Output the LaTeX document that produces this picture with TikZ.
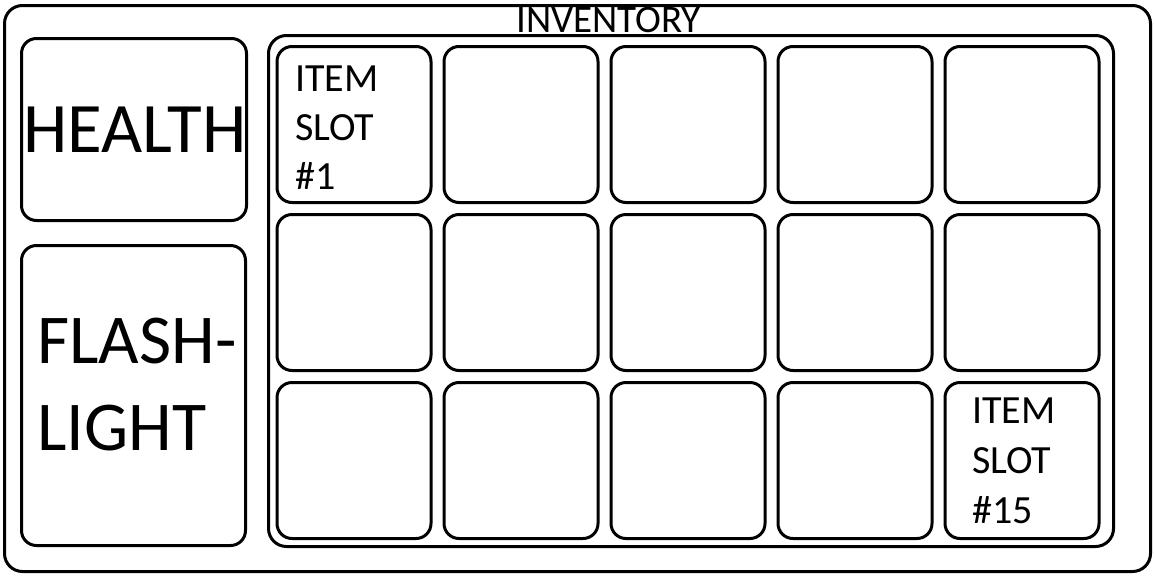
\documentclass[tikz,border=0pt]{standalone}
\usepackage{fontspec}
\setmainfont{Carlito}
\begin{document}
\begin{tikzpicture}[x=1pt,y=-1pt,
  box/.style={draw=black,line width=3pt,rounded corners=15pt,inner sep=0pt},
  slot/.style={box,minimum width=154pt,minimum height=156pt},
  txt/.style={inner sep=0pt,text=black}]
\useasboundingbox (0,0) rectangle (1155,576);
\fill[white] (0,0) rectangle (1155,576);
% outer frame
\node[box,rounded corners=18pt,minimum width=1146pt,minimum height=566pt] (frame) at (577.5,288.5) {};
% health and flashlight
\node[box,minimum width=225pt,minimum height=182pt] (health) at (134,129.5) {};
\node[box,minimum width=224pt,minimum height=300pt] (flash) at (133.5,395.5) {};
% inventory
\node[box,rounded corners=18pt,minimum width=845pt,minimum height=511pt] (inv) at (691,291) {};
\foreach \r [count=\ri] in {124.5,292.5,460.5}{
  \foreach \c [count=\ci] in {354,521,688,855,1022}{
    \node[slot] (s\ri\ci) at (\c,\r) {};
  }
}
% texts
\node[txt,anchor=base,font=\fontsize{71}{85}\selectfont] (thealth) at (135,152) {HEALTH};
\node[txt,anchor=base west,font=\fontsize{70}{84}\selectfont] (tflash) at (37,363) {FLASH-};
\node[txt,anchor=base west,font=\fontsize{70}{84}\selectfont] (tlight) at (37,450) {LIGHT};
\node[txt,anchor=base west,font=\fontsize{39}{47}\selectfont] (tinv) at (516,32) {INVENTORY};
\node[txt,anchor=base west,font=\fontsize{40}{48}\selectfont] (ta1) at (295,91) {ITEM};
\node[txt,anchor=base west,font=\fontsize{40}{48}\selectfont] (ta2) at (295,140) {SLOT};
\node[txt,anchor=base west,font=\fontsize{40}{48}\selectfont] (ta3) at (295,189) {\#1};
\node[txt,anchor=base west,font=\fontsize{40}{48}\selectfont] (tb1) at (972,423) {ITEM};
\node[txt,anchor=base west,font=\fontsize{40}{48}\selectfont] (tb2) at (972,473) {SLOT};
\node[txt,anchor=base west,font=\fontsize{40}{48}\selectfont] (tb3) at (972,523) {\#15};
\end{tikzpicture}
\end{document}
